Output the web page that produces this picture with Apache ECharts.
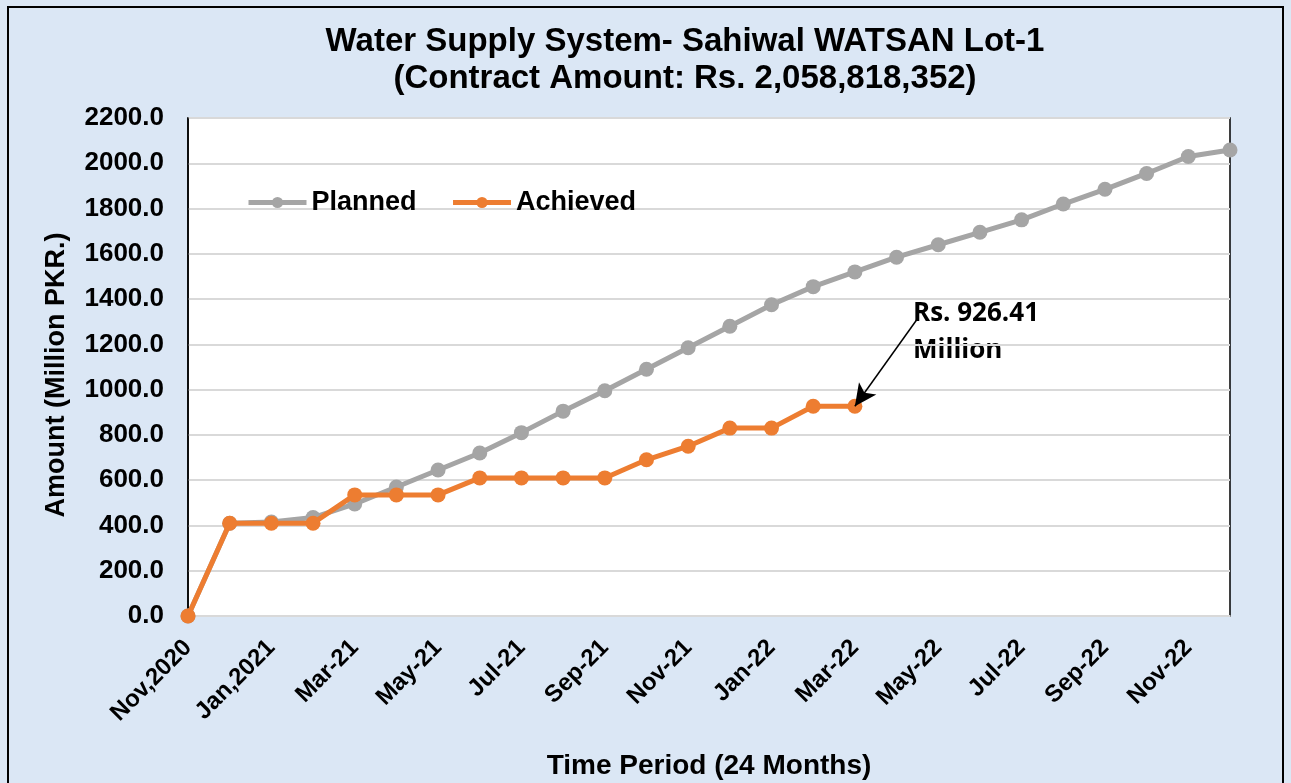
<!DOCTYPE html>
<html>
<head>
<meta charset="utf-8">
<script src="https://cdn.jsdelivr.net/npm/echarts@6/dist/echarts.min.js"></script>
<style>
  html, body { margin: 0; padding: 0; background: #dbe7f5; }
  #main { width: 1291px; height: 783px; }
</style>
</head>
<body>
<div id="main"></div>
<script>
// months Nov 2020 .. Dec 2022
const months = ['Nov,2020', 'Dec,2020', 'Jan,2021', 'Feb-21', 'Mar-21', 'Apr-21', 'May-21', 'Jun-21',
  'Jul-21', 'Aug-21', 'Sep-21', 'Oct-21', 'Nov-21', 'Dec-21', 'Jan-22', 'Feb-22', 'Mar-22', 'Apr-22',
  'May-22', 'Jun-22', 'Jul-22', 'Aug-22', 'Sep-22', 'Oct-22', 'Nov-22', 'Dec-22']
const planned = [0, 410, 415, 435, 495, 570, 645, 720, 810, 905, 995, 1090, 1185, 1280, 1375, 1455,
  1520, 1585, 1640, 1695, 1750, 1820, 1885, 1955, 2030, 2058.8]
const achieved = [0, 410, 410, 410, 535, 535, 535, 610, 610, 610, 610, 690, 750, 830, 830, 926.41, 926.41]
const lastAchieved = 926.41

const font = 'Liberation Sans, Arial, sans-serif'
let chart = echarts.init(document.getElementById('main'))

let option = {
  backgroundColor: '#dbe7f5',
  title: {
    text: 'Water Supply System- Sahiwal WATSAN Lot-1\n(Contract Amount: Rs. 2,058,818,352)',
    left: 680,
    textAlign: 'center',
    top: 18,
    textStyle: { fontFamily: font, fontSize: 33, fontWeight: 'bold', color: '#000', lineHeight: 37 }
  },
  legend: {
    left: 241,
    top: 184,
    itemWidth: 58,
    itemHeight: 14,
    itemGap: 34,
    lineStyle: { width: 5 },
    textStyle: { fontFamily: font, fontSize: 27, fontWeight: 'bold', color: '#000' },
    data: ['Planned', 'Achieved']
  },
  grid: {
    left: 188, right: 61, top: 118, bottom: 167,
    outerBoundsMode: 'none',
    containLabel: false,
    show: true, backgroundColor: '#fff', borderColor: '#000', borderWidth: 1.5
  },
  xAxis: {
    type: 'category',
    data: months,
    boundaryGap: false,
    name: 'Time Period (24 Months)',
    nameLocation: 'middle',
    nameGap: 136,
    nameTextStyle: { fontFamily: font, fontSize: 28, fontWeight: 'bold', color: '#000' },
    axisLine: { show: true, lineStyle: { color: '#d9d9d9', width: 1.5 } },
    axisTick: { show: false },
    axisLabel: {
      interval: 1, rotate: 45, margin: 28,
      fontFamily: font, fontSize: 24, fontWeight: 'bold', color: '#000'
    }
  },
  yAxis: {
    type: 'value',
    min: 0, max: 2200, interval: 200,
    name: 'Amount (Million PKR.)',
    nameLocation: 'middle',
    nameGap: 118,
    nameTextStyle: { fontFamily: font, fontSize: 27, fontWeight: 'bold', color: '#000', padding: [0, 16, 0, 0] },
    axisLine: { show: true, lineStyle: { color: '#000', width: 1.5 } },
    axisTick: { show: false },
    axisLabel: {
      margin: 24,
      fontFamily: font, fontSize: 26, fontWeight: 'bold', color: '#000',
      formatter: v => v.toFixed(1)
    },
    splitLine: { lineStyle: { color: '#d9d9d9', width: 2 } }
  },
  series: [
    {
      name: 'Planned',
      type: 'line',
      data: planned,
      symbol: 'circle',
      symbolSize: 15,
      color: '#a5a5a5',
      lineStyle: { width: 5, color: '#a5a5a5' },
      itemStyle: { color: '#a5a5a5' },
      z: 2
    },
    {
      name: 'Achieved',
      type: 'line',
      data: achieved,
      symbol: 'circle',
      symbolSize: 15,
      color: '#ed7d31',
      lineStyle: { width: 5, color: '#ed7d31' },
      itemStyle: { color: '#ed7d31' },
      z: 3,
      markLine: {
        silent: true,
        symbol: ['none', 'arrow'],
        symbolSize: [16, 22],
        label: { show: false },
        lineStyle: { color: '#000', width: 1.5, type: 'solid' },
        data: [[
          { x: 918, y: 318 },
          { coord: [achieved.length - 1, lastAchieved] }
        ]]
      }
    }
  ],
  graphic: [
    {
      type: 'text',
      left: 913, top: 295,
      style: {
        text: 'Rs. ' + lastAchieved + '\nMillion',
        font: 'bold 26px "Open Sans", sans-serif',
        lineHeight: 37,
        fill: '#000'
      }
    },
    {
      type: 'rect',
      shape: { x: 8, y: 7, width: 1275, height: 790 },
      style: { fill: 'none', stroke: '#000', lineWidth: 2 },
      silent: true
    }
  ]
}
chart.setOption(option)
</script>
</body>
</html>
